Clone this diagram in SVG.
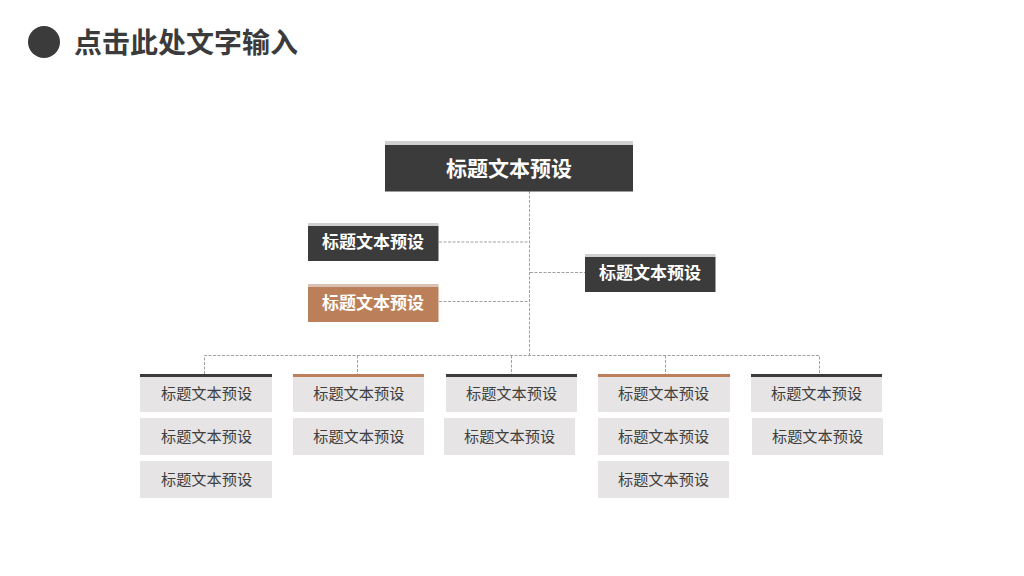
<svg xmlns="http://www.w3.org/2000/svg" width="1024" height="576" viewBox="0 0 1024 576">
<style>
text{font-family:"Noto Sans CJK SC","Liberation Sans",sans-serif;text-anchor:middle}
.d{fill:#3b3b3b}.b{fill:#bb8059}.g{fill:#d0d0d0}.bg{fill:#d9c2b4}.l{fill:#e6e4e4}
.w{fill:#fff;font-weight:700;font-size:17px}
.t{fill:#3f3f3f;font-size:15.2px}
#connectors path{fill:none;stroke:#a0a0a0;stroke-width:1;stroke-dasharray:3 1.5}
</style>
<rect width="1024" height="576" fill="#fff"/>
<g id="header"><circle cx="44" cy="42" r="16" fill="#3b3b3b"/><text x="186" y="53" style="font-size:28px;font-weight:700;fill:#3b3b3b">点击此处文字输入</text></g>
<g id="connectors">
<path d="M529.500 191V355"/>
<path d="M439 242H529"/>
<path d="M439 301.500H529"/>
<path d="M530 272.500H585"/>
<path d="M204.500 374V355.500H819.500V374"/>
<path d="M357.500 355.500V374"/>
<path d="M511.500 355.500V374"/>
<path d="M665.500 355.500V374"/>
</g>
<g id="root"><rect x="385" y="141" width="248" height="4" class="g"/><rect x="385" y="145" width="248" height="46.500" class="d"/><text x="509" y="176" class="w" style="font-size:21px">标题文本预设</text></g>
<g id="left-1"><rect x="308" y="223" width="130.500" height="3" class="g"/><rect x="308" y="226" width="130.500" height="35" class="d"/><text x="373" y="248" class="w">标题文本预设</text></g>
<g id="left-2"><rect x="308" y="284" width="130.500" height="3" class="bg"/><rect x="308" y="287" width="130.500" height="35" class="b"/><text x="373" y="309" class="w">标题文本预设</text></g>
<g id="right-1"><rect x="585" y="254" width="130.500" height="3" class="g"/><rect x="585" y="257" width="130.500" height="35" class="d"/><text x="650" y="279" class="w">标题文本预设</text></g>
<g id="c1-1"><rect x="140" y="374" width="132" height="38" class="l"/><rect x="140" y="374" width="132" height="3" class="d"/><text x="206.500" y="399" class="t">标题文本预设</text></g>
<g id="c1-2"><rect x="140" y="418" width="132" height="37" class="l"/><text x="206.500" y="442" class="t">标题文本预设</text></g>
<g id="c1-3"><rect x="140" y="461" width="132" height="37" class="l"/><text x="206.500" y="485" class="t">标题文本预设</text></g>
<g id="c2-1"><rect x="293" y="374" width="131" height="38" class="l"/><rect x="293" y="374" width="131" height="3" class="b"/><text x="358.800" y="399" class="t">标题文本预设</text></g>
<g id="c2-2"><rect x="293" y="418" width="131" height="37" class="l"/><text x="358.800" y="442" class="t">标题文本预设</text></g>
<g id="c3-1"><rect x="446" y="374" width="131" height="38" class="l"/><rect x="446" y="374" width="131" height="3" class="d"/><text x="511.500" y="399" class="t">标题文本预设</text></g>
<g id="c3-2"><rect x="444" y="418" width="131" height="37" class="l"/><text x="509.500" y="442" class="t">标题文本预设</text></g>
<g id="c4-1"><rect x="598" y="374" width="132" height="38" class="l"/><rect x="598" y="374" width="132" height="3" class="b"/><text x="663.500" y="399" class="t">标题文本预设</text></g>
<g id="c4-2"><rect x="598" y="418" width="131" height="37" class="l"/><text x="663.500" y="442" class="t">标题文本预设</text></g>
<g id="c4-3"><rect x="598" y="461" width="131" height="37" class="l"/><text x="663.500" y="485" class="t">标题文本预设</text></g>
<g id="c5-1"><rect x="751" y="374" width="131" height="38" class="l"/><rect x="751" y="374" width="131" height="3" class="d"/><text x="816.500" y="399" class="t">标题文本预设</text></g>
<g id="c5-2"><rect x="752" y="418" width="131" height="37" class="l"/><text x="817.500" y="442" class="t">标题文本预设</text></g>
</svg>
